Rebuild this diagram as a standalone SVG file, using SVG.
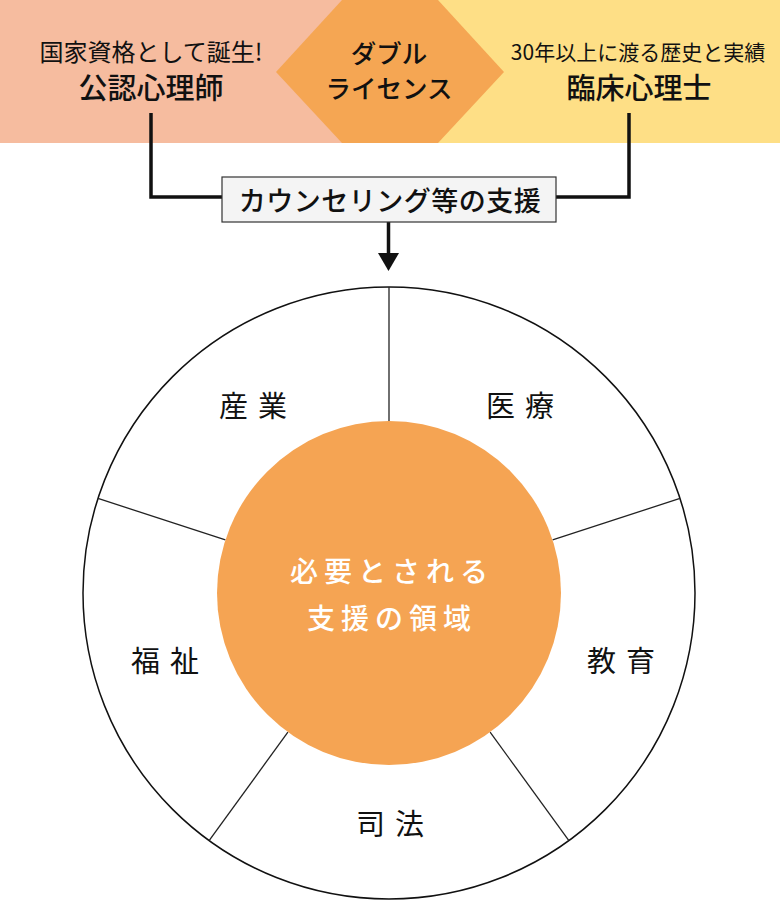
<svg xmlns="http://www.w3.org/2000/svg" width="780" height="901" viewBox="0 0 780 901">
<style>
text{font-family:"Noto Sans CJK JP","Noto Sans CJK SC",sans-serif;fill:#111;text-anchor:middle}
.subl{font-size:24px;font-weight:400}
.subr{font-size:21px;font-weight:400}
.ttl{font-size:29px;font-weight:500}
.dbl{font-size:25.5px;font-weight:500}
.lbl{font-size:29px;font-weight:400;letter-spacing:10px}
.ctr{font-size:28px;font-weight:500;fill:#fff;letter-spacing:6px}
.box{font-size:27px;font-weight:500;letter-spacing:0.5px}
.wire{fill:none;stroke:#111;stroke-width:3.5}
.spoke{stroke:#222;stroke-width:1.3}
</style>
<g id="band-left">
<rect x="0" y="0" width="390" height="143" fill="#F6BC9F"/>
<text class="subl" x="151" y="61">国家資格として誕生!</text>
<text class="ttl" x="151" y="99">公認心理師</text>
</g>
<g id="band-right">
<rect x="390" y="0" width="390" height="143" fill="#FEDF86"/>
<text class="subr" x="638" y="60">30年以上に渡る歴史と実績</text>
<text class="ttl" x="639" y="99">臨床心理士</text>
</g>
<g id="double-license">
<polygon points="342,0 438,0 504,72 438,143 342,143 276,72" fill="#F5A653"/>
<text class="dbl" x="389" y="63">ダブル</text>
<text class="dbl" x="389" y="98">ライセンス</text>
</g>
<g id="connectors">
<polyline class="wire" points="151,113 151,197 222,197"/>
<polyline class="wire" points="629,113 629,197 556,197"/>
<line class="wire" x1="388.5" y1="222" x2="388.5" y2="255"/>
<polygon points="378,253 399,253 388.5,271" fill="#111"/>
</g>
<g id="support-box">
<rect x="222" y="177" width="334" height="45" fill="#F4F4F4" stroke="#333" stroke-width="1.2"/>
<text class="box" x="390" y="211">カウンセリング等の支援</text>
</g>
<g id="domains">
<circle cx="389" cy="593" r="306" fill="#fff" stroke="#111" stroke-width="1.5"/>
<line class="spoke" x1="389" y1="421" x2="389" y2="287"/>
<line class="spoke" x1="552.6" y1="539.9" x2="680" y2="498.4"/>
<line class="spoke" x1="490.1" y1="732.1" x2="568.9" y2="840.6"/>
<line class="spoke" x1="287.9" y1="732.1" x2="209.1" y2="840.6"/>
<line class="spoke" x1="225.4" y1="539.9" x2="98" y2="498.4"/>
<text class="lbl" x="258" y="417">産業</text>
<text class="lbl" x="525" y="417">医療</text>
<text class="lbl" x="170" y="672">福祉</text>
<text class="lbl" x="626" y="672">教育</text>
<text class="lbl" x="395" y="835">司法</text>
</g>
<g id="center">
<circle cx="389" cy="593" r="172" fill="#F5A453"/>
<text class="ctr" x="392" y="582">必要とされる</text>
<text class="ctr" x="392" y="629">支援の領域</text>
</g>
</svg>
